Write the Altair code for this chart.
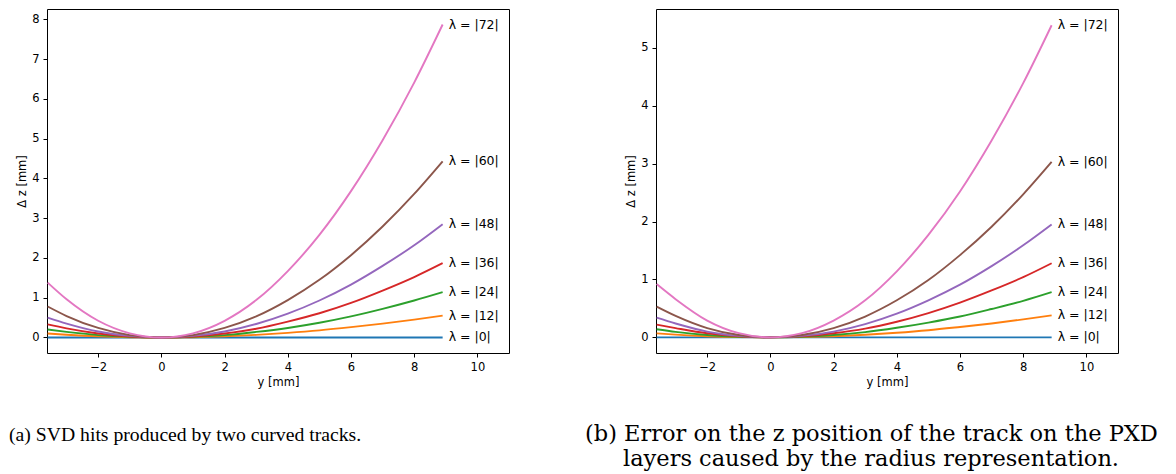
import altair as alt
import pandas as pd

# sample positions along y [mm]
y_pos = [-3.6, -3.0, -2.0, -1.0, 0.0, 1.0, 2.0, 3.0, 4.0, 5.0, 6.0, 7.0, 8.0, 8.9]
lambdas = ["λ = |0|", "λ = |12|", "λ = |24|", "λ = |36|", "λ = |48|", "λ = |60|", "λ = |72|"]
colors = ["#1f77b4", "#ff7f0e", "#2ca02c", "#d62728", "#9467bd", "#8c564b", "#e377c2"]

# panel (a) values of Δz [mm]
a_l0 = [0, 0, 0, 0, 0, 0, 0, 0, 0, 0, 0, 0, 0, 0]
a_l12 = [0.10, 0.07, 0.03, 0.007, 0, 0.007, 0.03, 0.066, 0.117, 0.18, 0.26, 0.35, 0.45, 0.55]
a_l24 = [0.20, 0.14, 0.06, 0.015, 0, 0.015, 0.06, 0.14, 0.24, 0.37, 0.53, 0.72, 0.93, 1.14]
a_l36 = [0.33, 0.23, 0.10, 0.025, 0, 0.025, 0.10, 0.22, 0.40, 0.61, 0.87, 1.18, 1.52, 1.87]
a_l48 = [0.50, 0.35, 0.15, 0.04, 0, 0.04, 0.15, 0.34, 0.60, 0.93, 1.33, 1.80, 2.32, 2.85]
a_l60 = [0.78, 0.54, 0.24, 0.06, 0, 0.06, 0.24, 0.53, 0.94, 1.45, 2.07, 2.79, 3.61, 4.43]
a_l72 = [1.38, 0.96, 0.42, 0.105, 0, 0.105, 0.42, 0.94, 1.67, 2.58, 3.68, 4.96, 6.41, 7.87]

# panel (b) values of Δz [mm]
b_l0 = [0, 0, 0, 0, 0, 0, 0, 0, 0, 0, 0, 0, 0, 0]
b_l12 = [0.07, 0.048, 0.02, 0.005, 0, 0.005, 0.02, 0.045, 0.08, 0.124, 0.18, 0.24, 0.31, 0.38]
b_l24 = [0.14, 0.095, 0.04, 0.01, 0, 0.01, 0.04, 0.09, 0.165, 0.255, 0.36, 0.49, 0.63, 0.78]
b_l36 = [0.22, 0.16, 0.07, 0.017, 0, 0.017, 0.07, 0.15, 0.27, 0.42, 0.60, 0.81, 1.04, 1.28]
b_l48 = [0.34, 0.24, 0.10, 0.026, 0, 0.026, 0.10, 0.23, 0.41, 0.64, 0.91, 1.23, 1.59, 1.95]
b_l60 = [0.53, 0.37, 0.16, 0.04, 0, 0.04, 0.16, 0.36, 0.64, 0.99, 1.42, 1.91, 2.47, 3.03]
b_l72 = [0.92, 0.66, 0.29, 0.072, 0, 0.072, 0.29, 0.64, 1.14, 1.77, 2.52, 3.40, 4.39, 5.39]

a_series = [a_l0, a_l12, a_l24, a_l36, a_l48, a_l60, a_l72]
b_series = [b_l0, b_l12, b_l24, b_l36, b_l48, b_l60, b_l72]

a_ticks = [0, 1, 2, 3, 4, 5, 6, 7, 8]
b_ticks = [0, 1, 2, 3, 4, 5]
x_ticks = [-2, 0, 2, 4, 6, 8, 10]

caption_a = ["(a) SVD hits produced by two curved tracks."]
caption_b = ["(b) Error on the z position of the track on the PXD",
             "layers caused by the radius representation."]

W, H = 462, 344


def long_df(series):
    rows = []
    for lab, vals in zip(lambdas, series):
        for y, v in zip(y_pos, vals):
            rows.append({"y": y, "dz": v, "lam": lab})
    return pd.DataFrame(rows)


def end_df(series):
    return pd.DataFrame({"y": [y_pos[-1]] * len(series),
                         "dz": [s[-1] for s in series],
                         "lam": lambdas})


def panel(series, ydom, yticks, cap_lines, cap_x, cap_indent, cap_font, cap_size):
    xs = alt.Scale(domain=[-3.62, 11.0], nice=False, zero=False)
    ys = alt.Scale(domain=ydom, nice=False, zero=False)
    cs = alt.Scale(domain=lambdas, range=colors)
    xax = alt.Axis(values=x_ticks, title="y [mm]", grid=False, domain=False, format="d")
    yax = alt.Axis(values=yticks, title="Δ z [mm]", grid=False, domain=False, format="d")
    lines = alt.Chart(long_df(series)).mark_line(
        strokeWidth=1.9, interpolate="monotone", clip=True
    ).encode(
        x=alt.X("y:Q", scale=xs, axis=xax),
        y=alt.Y("dz:Q", scale=ys, axis=yax),
        color=alt.Color("lam:N", scale=cs, legend=None),
        detail="lam:N",
    )
    labels = alt.Chart(end_df(series)).mark_text(
        align="left", baseline="middle", dx=6, fontSize=12.5,
        font="DejaVu Sans", color="black"
    ).encode(
        x=alt.X("y:Q", scale=xs),
        y=alt.Y("dz:Q", scale=ys),
        text="lam:N",
    )
    cap_df = pd.DataFrame({
        "t": cap_lines,
        "px": [cap_x] + [cap_x + cap_indent] * (len(cap_lines) - 1),
        "py": [H + 88 + 25 * i for i in range(len(cap_lines))],
    })
    caps = alt.Chart(cap_df).mark_text(
        align="left", baseline="alphabetic", fontSize=cap_size,
        font=cap_font, color="black"
    ).encode(
        x=alt.X("px:Q", scale=None),
        y=alt.Y("py:Q", scale=None),
        text="t:N",
    )
    return alt.layer(lines, labels, caps).properties(width=W, height=H)


left = panel(a_series, [-0.39, 8.26], a_ticks, caption_a, -38, 0, "Liberation Serif", 19.7)
right = panel(b_series, [-0.27, 5.67], b_ticks, caption_b, -71, 38, "DejaVu Serif", 22.5)

chart = alt.hconcat(left, right, spacing=74).properties(
    padding={"left": 0, "top": 0, "right": 0, "bottom": 0}
).configure_view(
    stroke="black", strokeWidth=1
).configure_axis(
    labelFont="DejaVu Sans", labelFontSize=11.5, labelColor="black",
    titleFont="DejaVu Sans", titleFontSize=11.5, titleFontWeight="normal",
    titleColor="black", tickColor="black", tickSize=4, labelPadding=4,
    titlePadding=4
).resolve_scale(color="independent")

chart.save("out.html", embed_options={"renderer": "svg", "actions": False})
